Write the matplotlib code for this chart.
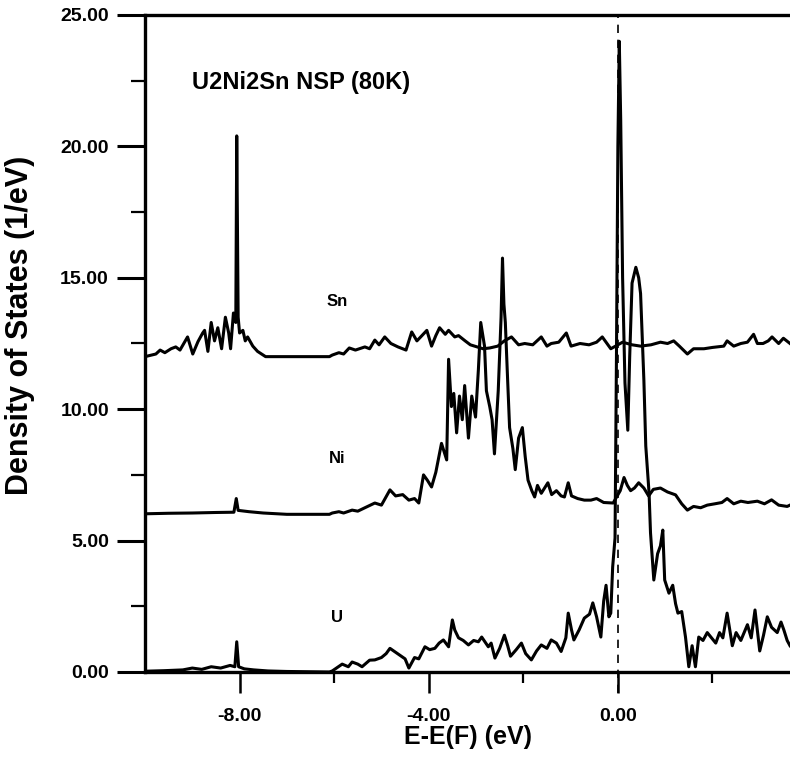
import matplotlib.pyplot as plt
from matplotlib.ticker import FixedLocator, MultipleLocator, FormatStrFormatter

plt.rcParams['font.family'] = ['Liberation Sans', 'DejaVu Sans']
plt.rcParams['font.weight'] = 'bold'

# DOS curves (energy in eV, DOS in 1/eV, already offset)
sn_x = [-10.0, -9.77, -9.68, -9.58, -9.45, -9.35, -9.26, -9.18, -9.1, -8.99, -8.88, -8.78, -8.74,
        -8.67, -8.6, -8.53, -8.46, -8.38, -8.3, -8.23, -8.19, -8.13, -8.08, -8.06, -8.03, -8.0,
        -7.93, -7.88, -7.83, -7.72, -7.62, -7.45, -6.1, -6.04, -5.9, -5.8, -5.68, -5.55, -5.35,
        -5.25, -5.14, -5.05, -4.93, -4.8, -4.65, -4.48, -4.36, -4.25, -4.17, -4.04, -3.94, -3.85,
        -3.77, -3.65, -3.58, -3.45, -3.37, -3.23, -3.12, -3.03, -2.85, -2.71, -2.54, -2.4, -2.25,
        -2.1, -1.97, -1.8, -1.62, -1.5, -1.41, -1.25, -1.09, -0.99, -0.8, -0.61, -0.45, -0.33,
        -0.15, 0.1, 0.3, 0.48, 0.7, 0.9, 1.05, 1.18, 1.3, 1.47, 1.6, 1.82, 2.0, 2.24, 2.31, 2.45,
        2.6, 2.74, 2.87, 2.95, 3.07, 3.18, 3.26, 3.4, 3.5, 3.64]
sn_y = [12.0, 12.1, 12.25, 12.15, 12.3, 12.37, 12.25, 12.5, 12.75, 12.1, 12.57, 12.9, 13.0,
        12.2, 13.3, 12.6, 13.1, 12.3, 13.5, 12.9, 12.3, 13.66, 13.3, 20.4, 13.5, 12.9,
        13.0, 12.6, 12.75, 12.4, 12.2, 12.0, 12.0, 12.06, 12.15, 12.1, 12.33, 12.25, 12.37,
        12.3, 12.63, 12.45, 12.75, 12.5, 12.37, 12.25, 12.94, 12.6, 12.75, 13.0, 12.4, 12.8,
        13.1, 12.85, 13.0, 12.75, 12.8, 12.6, 12.45, 12.4, 12.3, 12.33, 12.4, 12.6, 12.75,
        12.45, 12.5, 12.45, 12.75, 12.4, 12.5, 12.55, 12.9, 12.4, 12.5, 12.45, 12.55, 12.75,
        12.3, 12.55, 12.45, 12.4, 12.45, 12.55, 12.5, 12.6, 12.4, 12.1, 12.3, 12.3, 12.35, 12.4, 12.6, 12.4,
        12.5, 12.55, 12.85, 12.5, 12.5, 12.6, 12.75, 12.5, 12.7, 12.5]

ni_x = [-10.0, -9.5, -9.0, -8.5, -8.12, -8.07, -8.03, -7.8, -7.5, -7.0, -6.1, -6.04, -5.9, -5.8,
        -5.62, -5.5, -5.35, -5.14, -5.0, -4.82, -4.7, -4.55, -4.42, -4.3, -4.21, -4.11, -4.03,
        -3.94, -3.85, -3.73, -3.62, -3.58, -3.52, -3.47, -3.41, -3.35, -3.29, -3.24, -3.16,
        -3.09, -3.01, -2.95, -2.9, -2.82, -2.78, -2.71, -2.66, -2.61, -2.53, -2.47, -2.44,
        -2.41, -2.38, -2.34, -2.29, -2.22, -2.17, -2.1, -2.02, -1.96, -1.9, -1.82, -1.76, -1.7,
        -1.62, -1.55, -1.48, -1.4, -1.3, -1.2, -1.13, -1.05, -0.98, -0.85, -0.71, -0.57, -0.45,
        -0.3, -0.1, 0.05, 0.13, 0.2, 0.27, 0.35, 0.44, 0.55, 0.65, 0.75, 0.9, 1.05, 1.22, 1.35,
        1.47, 1.6, 1.75, 1.89, 2.05, 2.2, 2.31, 2.45, 2.6, 2.75, 2.95, 3.1, 3.25, 3.4, 3.58, 3.64]
ni_y = [6.02, 6.04, 6.05, 6.07, 6.08, 6.6, 6.15, 6.1, 6.05, 6.0, 6.0, 6.05, 6.1, 6.05,
        6.16, 6.12, 6.25, 6.43, 6.35, 6.93, 6.7, 6.75, 6.54, 6.6, 6.43, 7.5, 7.3,
        7.04, 7.6, 8.7, 8.07, 11.9, 10.1, 10.6, 9.1, 10.5, 9.6, 10.9, 8.9,
        10.5, 9.7, 11.5, 13.3, 12.4, 10.7, 10.1, 9.6, 8.3, 10.7, 13.5, 15.75,
        14.0, 13.3, 11.5, 9.3, 8.5, 7.7, 8.9, 9.3, 8.2, 7.3, 6.9, 6.66, 7.1,
        6.8, 7.0, 7.2, 6.75, 6.9, 6.7, 6.66, 7.2, 6.7, 6.6, 6.54, 6.54, 6.6,
        6.45, 6.43, 6.9, 7.4, 7.1, 6.9, 7.0, 7.2, 7.0, 6.7, 6.95, 7.0, 6.85, 6.74, 6.4,
        6.16, 6.3, 6.25, 6.35, 6.4, 6.45, 6.6, 6.4, 6.5, 6.45, 6.5, 6.4, 6.55, 6.35, 6.3, 6.35]

u_x = [-10.0, -9.6, -9.2, -9.0, -8.8, -8.6, -8.4, -8.2, -8.1, -8.06, -8.02, -7.9, -7.7, -7.4,
       -7.0, -6.1, -6.04, -5.83, -5.7, -5.62, -5.5, -5.41, -5.25, -5.14, -5.0, -4.9, -4.82,
       -4.7, -4.58, -4.5, -4.42, -4.3, -4.21, -4.08, -3.98, -3.87, -3.78, -3.69, -3.58, -3.5,
       -3.45, -3.37, -3.27, -3.16, -3.05, -2.95, -2.88, -2.74, -2.68, -2.6, -2.5, -2.4, -2.33,
       -2.27, -2.15, -2.04, -1.95, -1.83, -1.72, -1.62, -1.5, -1.41, -1.3, -1.2, -1.1, -1.05,
       -0.98, -0.93, -0.82, -0.71, -0.6, -0.53, -0.45, -0.36, -0.3, -0.25, -0.19, -0.15, -0.11,
       -0.06, -0.03, 0.0, 0.03, 0.06, 0.1, 0.15, 0.21, 0.25, 0.3, 0.38, 0.44, 0.48, 0.55, 0.59,
       0.66, 0.69, 0.76, 0.8, 0.84, 0.9, 0.95, 0.99, 1.08, 1.16, 1.22, 1.27, 1.35, 1.43, 1.5,
       1.57, 1.64, 1.71, 1.8, 1.89, 1.98, 2.07, 2.15, 2.22, 2.31, 2.42, 2.5, 2.6, 2.74, 2.82,
       2.9, 3.0, 3.08, 3.16, 3.25, 3.37, 3.45, 3.51, 3.58, 3.64]
u_y = [0.03, 0.05, 0.08, 0.15, 0.1, 0.2, 0.15, 0.25, 0.2, 1.15, 0.2, 0.12, 0.08, 0.04,
       0.02, 0.0, 0.04, 0.3, 0.2, 0.38, 0.3, 0.2, 0.45, 0.46, 0.55, 0.7, 0.9,
       0.75, 0.6, 0.5, 0.15, 0.55, 0.5, 0.96, 0.85, 0.9, 1.1, 1.22, 0.96, 1.98,
       1.6, 1.3, 1.2, 1.03, 1.2, 1.15, 1.33, 0.96, 1.1, 0.53, 0.9, 1.4, 1.0,
       0.6, 0.85, 1.1, 0.7, 0.46, 0.8, 1.03, 0.9, 1.22, 1.1, 0.78, 1.3, 2.24,
       1.6, 1.22, 1.6, 2.05, 2.2, 2.63, 2.1, 1.33, 2.7, 3.3, 2.1, 2.24, 4.0,
       5.1, 12.0, 20.0, 24.0, 21.0, 15.0, 11.0, 9.2, 12.0, 14.8, 15.4, 15.0, 14.4, 11.1, 8.6,
       6.8, 5.3, 3.5, 4.0, 4.5, 4.8, 5.4, 3.5, 3.0, 3.3, 2.6, 2.24, 2.3, 1.33, 0.2,
       1.0, 0.2, 1.33, 1.2, 1.5, 1.3, 1.1, 1.5, 1.3, 2.24, 1.0, 1.5, 1.2, 1.8, 1.3,
       2.36, 0.8, 1.4, 2.1, 1.7, 1.5, 1.9, 1.6, 1.2, 1.0]

labels = ['Sn', 'Ni', 'U']
label_y = [14.08, 8.14, 2.09]

fig = plt.figure(figsize=(7.9, 7.57), dpi=100)
ax = fig.add_axes([145/790, 85/757, 645/790, 657/757])

ax.plot(sn_x, sn_y, color='black', lw=2.2)
ax.plot(ni_x, ni_y, color='black', lw=2.2)
ax.plot(u_x, u_y, color='black', lw=2.2)

# Fermi level marker
ax.plot([0, 0], [-0.8, 25], color='black', lw=1.2, dashes=(5, 4), clip_on=False)

for name, yy in zip(labels, label_y):
    ax.text(-5.94, yy, name, fontsize=12, fontweight='bold', ha='center', va='center')

ax.text(-9.0, 22.45, 'U2Ni2Sn NSP (80K)', fontsize=17, fontweight='bold', va='center')

ax.set_xlim(-10, 3.64)
ax.set_ylim(0, 25)

ax.spines['right'].set_visible(False)
for s in ['left', 'bottom', 'top']:
    ax.spines[s].set_linewidth(2.4)

ax.xaxis.set_major_locator(FixedLocator([-8, -4, 0]))
ax.xaxis.set_minor_locator(FixedLocator([-6, -2, 2]))
ax.yaxis.set_major_locator(MultipleLocator(5))
ax.yaxis.set_minor_locator(MultipleLocator(2.5))
ax.xaxis.set_major_formatter(FormatStrFormatter('%.2f'))
ax.yaxis.set_major_formatter(FormatStrFormatter('%.2f'))
ax.tick_params(axis='y', which='major', direction='out', length=20, width=2.2, pad=6, labelsize=14)
ax.tick_params(axis='y', which='minor', direction='out', length=10, width=1.6)
ax.tick_params(axis='x', which='major', direction='out', length=15, width=1.8, pad=11, labelsize=14)
ax.tick_params(axis='x', which='minor', direction='out', length=8, width=1.6)
for lab in ax.get_xticklabels() + ax.get_yticklabels():
    lab.set_fontweight('bold')

ax.set_xlabel('E-E(F) (eV)', fontsize=18, fontweight='bold')
ax.xaxis.set_label_coords((468 - 145) / 645, (672 - 725) / 657)
fig.text(20/790, 1 - 325/757, 'Density of States (1/eV)', rotation=90, fontsize=22,
         fontweight='bold', ha='center', va='center')

plt.savefig('out.png', dpi=100)
